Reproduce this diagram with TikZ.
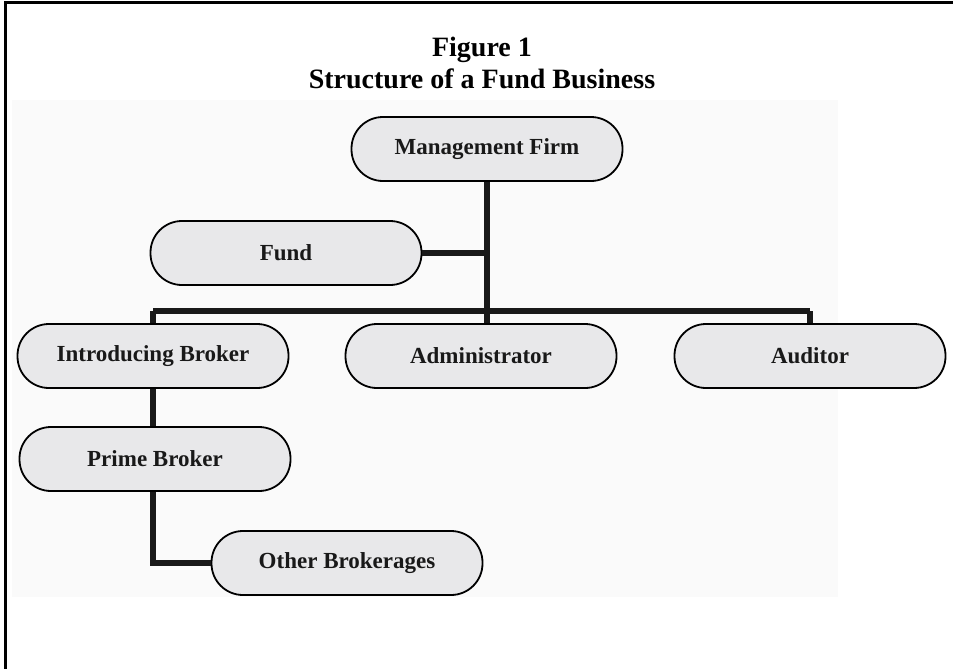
\documentclass[tikz,border=0pt]{standalone}
\usepackage{fontspec}
\setmainfont{Liberation Serif}
\definecolor{boxfill}{HTML}{E8E8EA}
\definecolor{bgpanel}{HTML}{FAFAFA}
\begin{document}
\begin{tikzpicture}[x=1pt,y=-1pt,
  box/.style={draw=black, line width=1.8pt, fill=boxfill, rounded corners=31.5pt,
    minimum width=271pt, minimum height=64pt, inner sep=0pt,
    font=\fontsize{23}{25}\selectfont\bfseries, text=black!90},
  conn/.style={draw=black!90, line width=5.5pt}]
\useasboundingbox (0,0) rectangle (953,669);
\clip (0,0) rectangle (953,669);
\fill[white] (0,0) rectangle (953,669);
\fill[bgpanel] (12,100) rectangle (838,597);
\draw[line width=3pt] (5.5,3) rectangle (990,700);
\node[font=\fontsize{28}{32}\selectfont\bfseries, align=center] (title) at (482,63)
  {Figure 1\\Structure of a Fund Business};
\node[box] (mgmt) at (487,149) {Management Firm};
\node[box] (fund) at (286,253) {Fund};
\node[box] (intro) at (153,356) {Introducing Broker};
\node[box] (admin) at (481,356) {Administrator};
\node[box] (aud) at (810,356) {Auditor};
\node[box] (prime) at (155,459) {Prime Broker};
\node[box] (other) at (347,563) {Other Brokerages};
\coordinate (jl) at (153,311);
\coordinate (jr) at (810,311);
\coordinate (jm) at (487,311);
\coordinate (pk) at (153,563);
\draw[conn] (mgmt.south -| jm) -- (jm);
\draw[conn] (fund.east) -- (fund.east -| jm);
\draw[conn] (jl) -- (jr);
\draw[conn] (jl) -- (intro.north -| jl);
\draw[conn] (jr) -- (aud.north -| jr);
\draw[conn] (jm) -- (admin.north -| jm);
\draw[conn] (intro.south -| jl) -- (prime.north -| jl);
\draw[conn] (prime.south -| pk) -- (pk) -- (other.west);
\end{tikzpicture}
\end{document}
